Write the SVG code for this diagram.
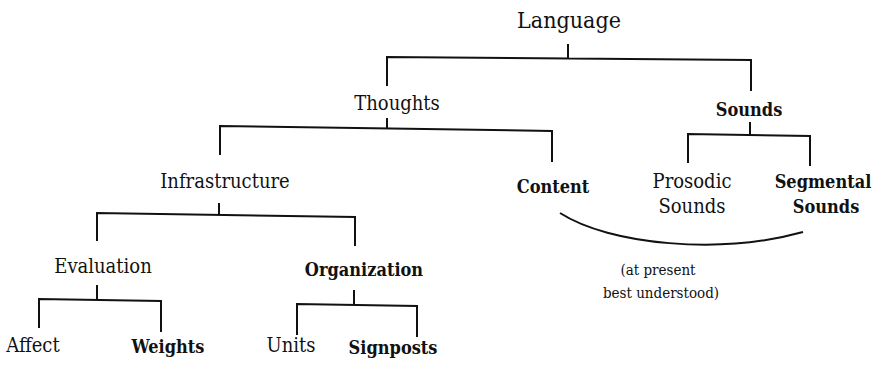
<svg xmlns="http://www.w3.org/2000/svg" width="880" height="374" viewBox="0 0 880 374">
<style>
text{font-family:"DejaVu Serif Condensed","DejaVu Serif",serif;font-stretch:condensed;fill:#111;text-anchor:middle;font-size:20px}
.b{font-weight:bold;font-size:18px}
.t{font-size:23px}
.n{font-size:15px}
.c{fill:none;stroke:#111;stroke-width:2;stroke-linecap:butt;stroke-linejoin:miter}
</style>
<rect width="880" height="374" fill="#fff"/>
<g id="connectors">
<path class="c" d="M568,44V58 M387,86V57L751,60V91"/>
<path class="c" d="M387,118V128 M220,155V126L552,131V162"/>
<path class="c" d="M750,122V135 M688,163V134L810,136V166"/>
<path class="c" d="M219,203V214 M97,241V213L355,217V246"/>
<path class="c" d="M97,285V300 M39,328V299L161,301V332"/>
<path class="c" d="M354,290V305 M297,335V304L417,306V337"/>
<path class="c" d="M560,213C610,245 720,255 803,232"/>
</g>
<g id="language"><text class="t" x="569" y="28">Language</text></g>
<g id="thoughts"><text x="397" y="110">Thoughts</text></g>
<g id="sounds"><text class="b" x="749" y="116">Sounds</text></g>
<g id="infrastructure"><text x="225" y="188">Infrastructure</text></g>
<g id="content"><text class="b" x="553" y="193">Content</text></g>
<g id="prosodic"><text x="692" y="188">Prosodic</text><text x="692" y="213">Sounds</text></g>
<g id="segmental"><text class="b" x="823" y="188">Segmental</text><text class="b" x="826" y="213">Sounds</text></g>
<g id="note"><text class="n" x="658" y="275">(at present</text><text class="n" x="661" y="298">best understood)</text></g>
<g id="evaluation"><text x="103" y="273">Evaluation</text></g>
<g id="organization"><text class="b" x="364" y="276">Organization</text></g>
<g id="affect"><text x="33" y="352">Affect</text></g>
<g id="weights"><text class="b" x="168" y="353">Weights</text></g>
<g id="units"><text x="291" y="352">Units</text></g>
<g id="signposts"><text class="b" x="393" y="354">Signposts</text></g>
</svg>
